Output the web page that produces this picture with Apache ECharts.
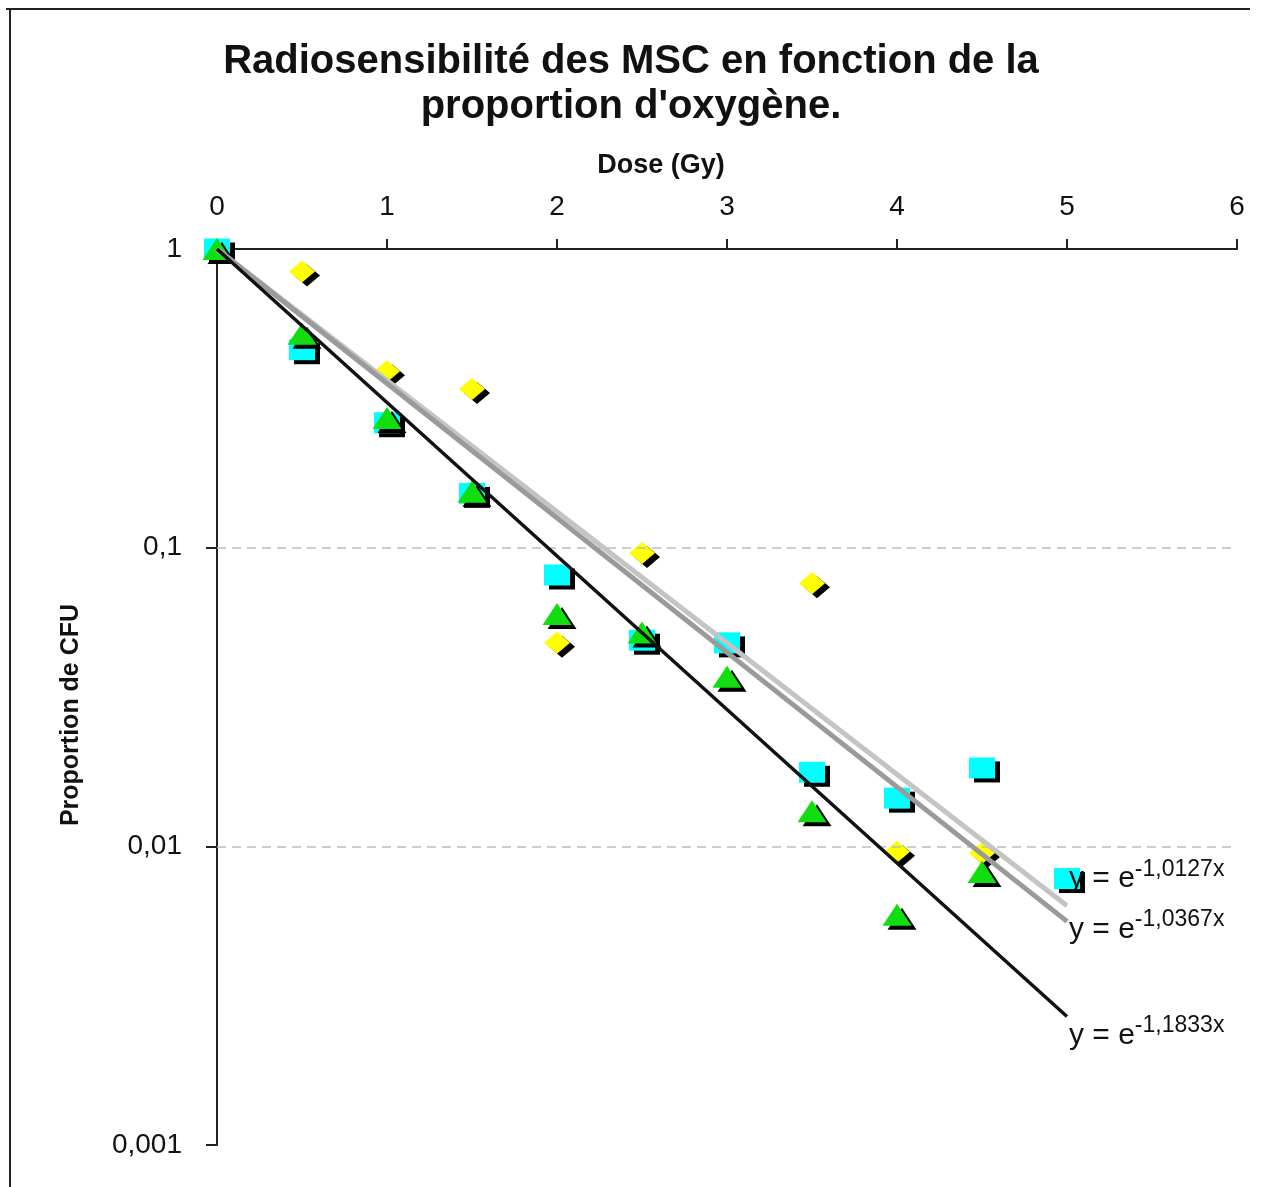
<!DOCTYPE html>
<html>
<head>
<meta charset="utf-8">
<script src="https://cdn.jsdelivr.net/npm/echarts@6/dist/echarts.min.js"></script>
<style>
html,body{margin:0;padding:0;background:#fff;}
#chart{width:1262px;height:1187px;}
</style>
</head>
<body>
<div id="chart"></div>
<script>
// ---- data ----
const doses = [0, 0.5, 1, 1.5, 2, 2.5, 3, 3.5, 4, 4.5, 5];
const yellowValues = [1, 0.84, 0.39, 0.34, 0.048, 0.096, 0.048, 0.076, 0.0096, 0.0095, null];
const cyanValues   = [1, 0.46, 0.262, 0.152, 0.081, 0.049, 0.048, 0.0177, 0.0145, 0.0183, 0.0078];
const greenValues  = [1, 0.52, 0.272, 0.154, 0.060, 0.052, 0.037, 0.0131, 0.0059, 0.0082, null];
const fitCoefs  = [1.0127, 1.0367, 1.1833];
const fitLabels = ['-1,0127x', '-1,0367x', '-1,1833x'];
const fitRange  = [0, 5];
const xTicks = [0, 1, 2, 3, 4, 5, 6];
const yTickLabels = ['0,001', '0,01', '0,1', '1'];

const FONT = '"Liberation Sans", Arial, sans-serif';

function pairs(vals) {
  const out = [];
  doses.forEach((d, i) => { if (vals[i] != null) out.push([d, vals[i]]); });
  return out;
}
function fitLine(k) {
  return fitRange.map(x => [x, Math.exp(-k * x)]);
}
const shadow = { opacity: 1, shadowColor: '#000', shadowBlur: 0, shadowOffsetX: 5, shadowOffsetY: 4 };

const fitStyles = [
  { color: '#c4c4c4', width: 5, offset: [0, -30] },
  { color: '#9a9a9a', width: 5, offset: [0, 5] },
  { color: '#111111', width: 3.5, offset: [0, 16] }
];

const fitSeries = fitCoefs.map((k, i) => ({
  type: 'line',
  data: fitLine(k),
  showSymbol: false,
  symbol: 'none',
  z: 5,
  silent: true,
  lineStyle: { color: fitStyles[i].color, width: fitStyles[i].width },
  endLabel: {
    show: true,
    distance: 2,
    offset: fitStyles[i].offset,
    formatter: () => '{m|y = e}{s|' + fitLabels[i] + '}',
    rich: {
      m: { fontFamily: FONT, fontSize: 30, color: '#111', lineHeight: 36, verticalAlign: 'bottom' },
      s: { fontFamily: FONT, fontSize: 23, color: '#111', lineHeight: 15, verticalAlign: 'top' }
    }
  }
}));

const chart = echarts.init(document.getElementById('chart'));
chart.setOption({
  backgroundColor: '#fff',
  animation: false,
  title: {
    text: 'Radiosensibilité des MSC en fonction de la\nproportion d\'oxygène.',
    left: 'center',
    top: 34,
    textStyle: { fontFamily: FONT, fontSize: 40, fontWeight: 'bold', color: '#111', lineHeight: 45 }
  },
  graphic: [
    { type: 'line', shape: { x1: 6, y1: 9, x2: 1250, y2: 9 }, style: { stroke: '#222', lineWidth: 2 } },
    { type: 'line', shape: { x1: 10, y1: 8, x2: 10, y2: 1187 }, style: { stroke: '#222', lineWidth: 2 } }
  ],
  grid: { left: 217, right: 25, top: 249, bottom: 42 },
  xAxis: {
    type: 'value',
    position: 'top',
    min: xTicks[0],
    max: xTicks[xTicks.length - 1],
    interval: 1,
    name: 'Dose (Gy)',
    nameLocation: 'middle',
    nameGap: 70,
    nameTextStyle: { fontFamily: FONT, fontSize: 27, fontWeight: 'bold', color: '#111', padding: [0, 132, 0, 0] },
    axisLine: { onZero: false, lineStyle: { color: '#222', width: 2 } },
    axisTick: { show: true, inside: false, length: 10, lineStyle: { color: '#222', width: 2 } },
    axisLabel: { fontFamily: FONT, fontSize: 28, color: '#111', margin: 28 },
    splitLine: { show: false }
  },
  yAxis: {
    type: 'log',
    logBase: 10,
    min: 0.001,
    max: 1,
    name: 'Proportion de CFU',
    nameLocation: 'middle',
    nameRotate: 90,
    nameGap: 133,
    nameTextStyle: { fontFamily: FONT, fontSize: 25, fontWeight: 'bold', color: '#111', padding: [0, 36, 0, 0] },
    axisLine: { onZero: false, lineStyle: { color: '#222', width: 2 } },
    axisTick: { show: true, inside: false, length: 11, lineStyle: { color: '#222', width: 2 } },
    axisLabel: {
      fontFamily: FONT, fontSize: 28, color: '#111', margin: 35,
      formatter: v => yTickLabels[Math.round(Math.log10(v)) + 3]
    },
    minorTick: { show: false },
    splitLine: { show: false }
  },
  series: [
    {
      type: 'scatter', name: 'jaune', data: pairs(yellowValues),
      symbol: 'diamond', symbolSize: [26, 22], z: 2,
      itemStyle: Object.assign({ color: '#ffff00' }, shadow),
      markLine: {
        silent: true, symbol: 'none', label: { show: false },
        lineStyle: { color: '#bdbdbd', type: [9, 6], width: 1.5 },
        data: [{ yAxis: 0.1 }, { yAxis: 0.01 }]
      }
    },
    {
      type: 'scatter', name: 'cyan', data: pairs(cyanValues),
      symbol: 'rect', symbolSize: [26, 21], z: 3,
      itemStyle: Object.assign({ color: '#00ffff' }, shadow)
    },
    {
      type: 'scatter', name: 'vert', data: pairs(greenValues),
      symbol: 'triangle', symbolSize: [29, 22], z: 4,
      itemStyle: Object.assign({ color: '#11dd11' }, shadow)
    }
  ].concat(fitSeries)
});
</script>
</body>
</html>
